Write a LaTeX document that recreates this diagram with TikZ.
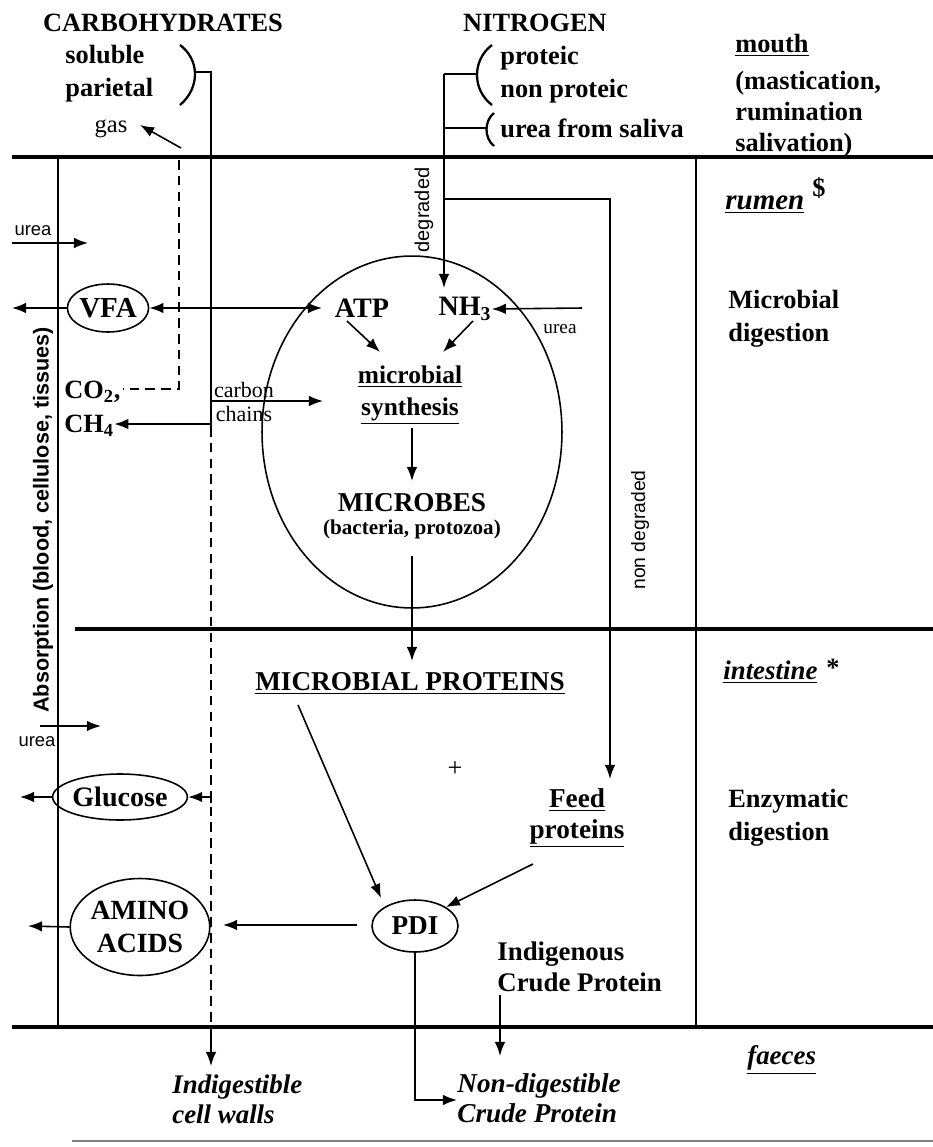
\documentclass[tikz,border=0pt]{standalone}
\usepackage{fontspec}
\setmainfont{Liberation Serif}
\newfontfamily\sansfam{Liberation Sans}
\usetikzlibrary{shapes.geometric,arrows.meta}
\begin{document}
\begin{tikzpicture}[x=0.02cm,y=-0.02cm,
  band/.style={line width=2.3pt},
  wire/.style={line width=0.9pt},
  arr/.style={wire,-{Latex[length=8pt,width=6pt]}},
  darr/.style={wire,{Latex[length=8pt,width=6pt]}-{Latex[length=8pt,width=6pt]}},
  dashwire/.style={wire,dash pattern=on 5.5pt off 3.5pt},
  oval/.style={draw,ellipse,line width=0.9pt,inner sep=0pt},
  txt/.style={inner sep=0pt,font=\bfseries\fontsize{15}{18.7}\selectfont,align=left},
  itx/.style={inner sep=0pt,font=\bfseries\itshape\fontsize{15.3}{17}\selectfont,align=left},
  hd/.style={inner sep=0pt,font=\bfseries\fontsize{15}{18}\selectfont},
  sm/.style={inner sep=0pt,font=\fontsize{12.5}{14}\selectfont},
  ss/.style={inner sep=0pt,font=\sansfam\fontsize{10.5}{12}\selectfont},
  paren/.style={line width=1.3pt}]
\useasboundingbox (0,0) rectangle (933,1147);
\fill[white] (0,0) rectangle (933,1147);

% ---------- horizontal bands ----------
\coordinate (L1a) at (12,157);  \coordinate (L1b) at (933,157);
\coordinate (L2a) at (75,629);  \coordinate (L2b) at (933,629);
\coordinate (L3a) at (12,1027); \coordinate (L3b) at (933,1027);
\coordinate (L4a) at (72,1141); \coordinate (L4b) at (933,1141);
\draw[band] (L1a) -- (L1b);
\draw[band] (L2a) -- (L2b);
\draw[band] (L3a) -- (L3b);
\draw[line width=0.6pt,gray] (L4a) -- (L4b);

% ---------- vertical lines ----------
\coordinate (VLt) at (58,157);  \coordinate (VLb) at (58,1027);
\coordinate (VRt) at (696,157); \coordinate (VRb) at (696,1027);
\draw[wire] (VLt) -- (VLb);
\draw[wire] (VRt) -- (VRb);

% ---------- headings ----------
\node[hd] (carbo) at (163,23) {CARBOHYDRATES};
\node[txt,anchor=west] (carbosub) at (65,74) {soluble\\parietal};
\node[hd] (nitro) at (535,23) {NITROGEN};
\node[txt,anchor=west] (nsub) at (500,75) {proteic\\non proteic};
\node[txt,anchor=west] (saliva) at (500,128) {urea from saliva};

% ---------- right column ----------
\node[txt,anchor=west] (mouth) at (735,45) {\underline{mouth}};
\node[txt,anchor=west,font=\bfseries\fontsize{15}{17.6}\selectfont] (mast) at (735,114) {(mastication,\\rumination\\salivation)};
\node[itx,anchor=west,font=\bfseries\itshape\fontsize{16.5}{18}\selectfont] (rumenlbl) at (725,205) {\underline{rumen}};
\node[txt] (dollar) at (819,188) {\$};
\node[txt,anchor=west] (microdig) at (728,319) {Microbial\\digestion};
\node[itx,anchor=west] (intest) at (723,672) {\underline{intestine}};
\node[txt] (star) at (833,668) {*};
\node[txt,anchor=west] (enzdig) at (728,818) {Enzymatic\\digestion};
\node[itx,anchor=west] (faeces) at (747,1060) {\underline{faeces}};

% ---------- parentheses ----------
\coordinate (cp1) at (180,45); \coordinate (cp2) at (180,105);
\draw[paren] (cp1) .. controls (200,60) and (200,88) .. (cp2);
\coordinate (np1) at (492,45); \coordinate (np2) at (492,105);
\draw[paren] (np1) .. controls (472,60) and (472,90) .. (np2);
\coordinate (sp1) at (494,113); \coordinate (sp2) at (494,146);
\draw[paren] (sp1) .. controls (484,121) and (484,138) .. (sp2);

% ---------- carbohydrate line ----------
\coordinate (cParen) at (196,72);
\coordinate (cTop) at (211,72);
\coordinate (cSplit) at (211,427);
\coordinate (cBot) at (211,1027);
\coordinate (cEnd) at (211,1066);
\draw[wire] (cParen) -- (cTop) -- (cSplit);
\draw[dashwire] (cSplit) -- (cBot);
\draw[arr] (cBot) -- (cEnd);
\node[itx,anchor=west] (indigcw) at (172,1099) {Indigestible\\cell walls};

% ---------- gas ----------
\node[inner sep=0pt,font=\fontsize{14}{16}\selectfont] (gas) at (111,129) {gas};
\coordinate (gasS) at (181,148);
\coordinate (gasE) at (140,125);
\draw[arr] (gasS) -- (gasE);
\coordinate (gTop) at (179,160);
\coordinate (gCorner) at (179,389);
\node[txt,anchor=west,font=\bfseries\fontsize{15}{16}\selectfont] (co2) at (64,392) {CO\textsubscript{2},};
\node[txt,anchor=west,font=\bfseries\fontsize{15}{16}\selectfont] (ch4) at (64,426) {CH\textsubscript{4}};
\coordinate (co2e) at (123,389);
\draw[dashwire] (gTop) -- (gCorner) -- (co2e);

% ---------- CH4 and carbon chains ----------
\coordinate (ch4s) at (211,424);
\draw[arr] (ch4s) -- (ch4.east |- ch4s);
\coordinate (ccS) at (211,401);
\coordinate (ccE) at (323,401);
\draw[arr] (ccS) -- (ccE);
\node[sm] (carbon) at (244,390) {carbon};
\node[sm] (chains) at (244,414) {chains};

% ---------- rumen ----------
\node[draw,ellipse,line width=0.9pt,minimum width=6cm,minimum height=7.04cm,inner sep=0pt] (rumen) at (412,432) {};
\node[hd,font=\bfseries\fontsize{16}{17}\selectfont] (atp) at (362,308) {ATP};
\node[hd,font=\bfseries\fontsize{16}{17}\selectfont] (nh3) at (465,309) {NH\textsubscript{3}};
\node[txt,align=center,font=\bfseries\fontsize{14.5}{18}\selectfont] (synth) at (410,395) {\underline{microbial}\\\underline{synthesis}};
\node[hd,font=\bfseries\fontsize{15.5}{18}\selectfont] (microbes) at (412,503) {MICROBES};
\node[inner sep=0pt,font=\bfseries\fontsize{12}{13}\selectfont] (bact) at (412,529) {(bacteria, protozoa)};

% VFA
\node[oval,minimum width=1.4cm,minimum height=0.96cm,font=\bfseries\fontsize{16.5}{17}\selectfont] (vfa) at (108,308) {VFA};
\coordinate (atpIn) at (322,308);
\draw[darr] (vfa.east) -- (atpIn);
\coordinate (vfaOut) at (12,308);
\draw[arr] (vfa.west) -- (vfaOut);

% urea top
\coordinate (u1s) at (12,243);
\coordinate (u1e) at (88,243);
\draw[arr] (u1s) -- (u1e);
\node[ss] (u1) at (33,231) {urea};

% nitrogen lines
\coordinate (nParen) at (476,74);
\coordinate (nTop) at (444,74);
\coordinate (sParen) at (487,128);
\coordinate (sJoin) at (444,128);
\coordinate (nNH3) at (444,288);
\coordinate (ndJoin) at (444,199);
\coordinate (ndCorner) at (610,199);
\coordinate (ndEnd) at (610,779);
\draw[wire] (nParen) -- (nTop);
\draw[wire] (sParen) -- (sJoin);
\draw[arr] (nTop) -- (nNH3);
\draw[arr] (ndJoin) -- (ndCorner) -- (ndEnd);
\node[ss,rotate=90,font=\sansfam\fontsize{11.4}{12}\selectfont] (degr) at (424,210) {degraded};
\node[ss,rotate=90,font=\sansfam\fontsize{11}{12}\selectfont] (nondegr) at (640,530) {non degraded};

% urea into NH3
\coordinate (u3s) at (582,308);
\draw[arr] (u3s) -- (nh3.east);
\node[sm,font=\fontsize{11}{12}\selectfont] (u3) at (560,329) {urea};

% into synthesis
\coordinate (a1s) at (347,321); \coordinate (a1e) at (380,352);
\coordinate (a2s) at (473,321); \coordinate (a2e) at (443,352);
\draw[arr] (a1s) -- (a1e);
\draw[arr] (a2s) -- (a2e);
\coordinate (s1s) at (412,428); \coordinate (s1e) at (412,481);
\draw[arr] (s1s) -- (s1e);

% microbes to microbial proteins
\node[inner sep=0pt,font=\bfseries\fontsize{15.5}{17}\selectfont] (mp) at (410,683) {\underline{MICROBIAL PROTEINS}};
\coordinate (m1s) at (412,556);
\coordinate (m1e) at (412,661);
\draw[arr] (m1s) -- (m1e);

% intestine section
\node[inner sep=0pt,font=\fontsize{15}{16}\selectfont] (plus) at (455,769) {+};
\node[txt,align=center,font=\bfseries\fontsize{15.5}{17.5}\selectfont] (feed) at (577,818) {\underline{Feed}\\\underline{proteins}};
\node[oval,minimum width=1.72cm,minimum height=1.04cm,font=\bfseries\fontsize{15.5}{16}\selectfont] (pdi) at (415,926) {PDI};
\coordinate (mpS) at (298,705);
\coordinate (mpE) at (381,898);
\coordinate (fpS) at (533,864);
\draw[arr] (mpS) -- (mpE);
\draw[arr] (fpS) -- (pdi.north east);

\node[oval,minimum width=2.68cm,minimum height=1.94cm,align=center,font=\bfseries\fontsize{15.8}{18.3}\selectfont] (amino) at (140,927) {AMINO\\ACIDS};
\coordinate (pdiL) at (357,925);
\coordinate (amIn) at (223,925);
\draw[arr] (pdiL) -- (amIn);
\coordinate (amOut) at (28,926);
\draw[arr] (amino.west) -- (amOut);

\node[oval,minimum width=2.08cm,minimum height=0.92cm,font=\bfseries\fontsize{16}{17}\selectfont] (glucose) at (120,797) {Glucose};
\coordinate (glS) at (211,797);
\coordinate (glT1) at (211,791);
\coordinate (glT2) at (211,803);
\draw[wire] (glT1) -- (glT2);
\draw[arr] (glS) -- (glucose.east);
\coordinate (glOut) at (20,797);
\draw[arr] (glucose.west) -- (glOut);

% urea lower
\coordinate (u2s) at (40,726);
\coordinate (u2e) at (101,726);
\draw[arr] (u2s) -- (u2e);
\node[ss] (u2) at (37,742) {urea};

% absorption
\node[inner sep=0pt,rotate=90,font=\sansfam\bfseries\fontsize{12.3}{13}\selectfont] (absorb) at (43,520) {Absorption (blood, cellulose, tissues)};

% indigenous / faeces
\node[txt,anchor=west,font=\bfseries\fontsize{15.3}{17.5}\selectfont] (indig) at (497,967) {Indigenous\\Crude Protein};
\coordinate (inS) at (500,995);
\coordinate (inE) at (500,1056);
\draw[arr] (inS) -- (inE);
\node[itx,anchor=west,font=\bfseries\itshape\fontsize{15.5}{17}\selectfont] (nondig) at (457,1098) {Non-digestible\\Crude Protein};
\coordinate (pdiDown) at (415,1100);
\draw[arr] (pdi.south) -- (pdiDown) -- (nondig.west |- pdiDown);
\end{tikzpicture}
\end{document}
